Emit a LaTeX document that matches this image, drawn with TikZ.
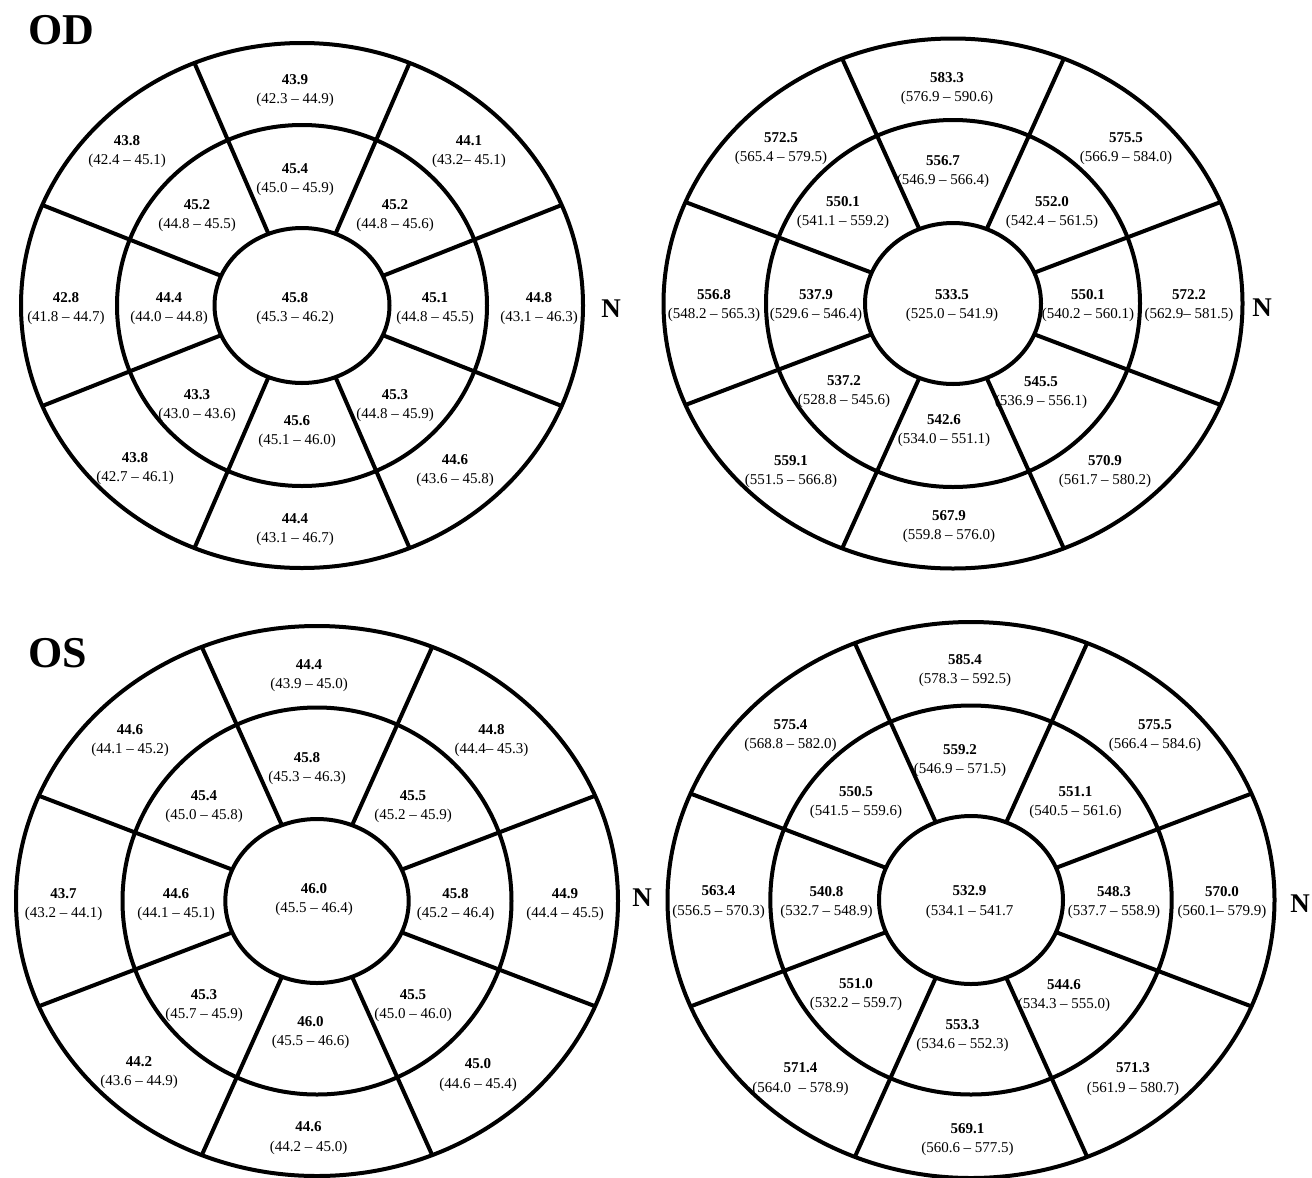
\documentclass[tikz,border=0pt]{standalone}
\usepackage{fontspec}
\setmainfont{Liberation Serif}
\tikzset{
  ring/.style={line width=4pt},
  spoke/.style={line width=4pt},
  lbl/.style={align=center, font=\fontsize{15}{19.5}\selectfont, inner sep=0pt},
  eyetag/.style={font=\fontsize{44}{44}\selectfont\bfseries, inner sep=0pt},
  nasal/.style={font=\fontsize{27}{27}\selectfont\bfseries, inner sep=0pt},
}
% cx cy orx ory mrx mry irx iry
\newcommand\eyechart[8]{%
  \draw[ring] (#1,#2) ellipse [x radius=#3pt, y radius=#4pt];
  \draw[ring] (#1,#2) ellipse [x radius=#5pt, y radius=#6pt];
  \draw[ring] (#1,#2) ellipse [x radius=#7pt, y radius=#8pt];
  \foreach \a in {22.5,67.5,...,337.5}{
    \draw[spoke] ({#1+#7*cos(\a)},{#2+#8*sin(\a)}) -- ({#1+#3*cos(\a)},{#2+#4*sin(\a)});
  }%
}
\newcommand\seg[5]{\node[lbl] (#1) at (#2,{#3+9.75}) {\textbf{#4}\\#5};}
\begin{document}
\begin{tikzpicture}[x=1pt,y=-1pt]
\useasboundingbox (0,0) rectangle (1312,1178);
% ---------- OD left ----------
\eyechart{302}{305.5}{281}{262.5}{185}{180.5}{87.5}{77.5}
\node[eyetag] (od) at (61,30.5) {OD};
\node[nasal] (n1) at (611,309) {N};
\seg{t1}{295}{81}{43.9}{(42.3 – 44.9)}
\seg{t2}{127}{142}{43.8}{(42.4 – 45.1)}
\seg{t3}{469}{142}{44.1}{(43.2– 45.1)}
\seg{t4}{295}{170}{45.4}{(45.0 – 45.9)}
\seg{t5}{197}{206}{45.2}{(44.8 – 45.5)}
\seg{t6}{395}{206}{45.2}{(44.8 – 45.6)}
\seg{t7}{66}{299}{42.8}{(41.8 – 44.7)}
\seg{t8}{169}{299}{44.4}{(44.0 – 44.8)}
\seg{t9}{295}{299}{45.8}{(45.3 – 46.2)}
\seg{t10}{435}{299}{45.1}{(44.8 – 45.5)}
\seg{t11}{539}{299}{44.8}{(43.1 – 46.3)}
\seg{t12}{197}{396}{43.3}{(43.0 – 43.6)}
\seg{t13}{395}{396}{45.3}{(44.8 – 45.9)}
\seg{t14}{297}{422}{45.6}{(45.1 – 46.0)}
\seg{t15}{135}{459}{43.8}{(42.7 – 46.1)}
\seg{t16}{455}{461}{44.6}{(43.6 – 45.8)}
\seg{t17}{295}{520}{44.4}{(43.1 – 46.7)}
% ---------- OD right ----------
\eyechart{953}{303.5}{289.5}{265}{187}{183.5}{88}{80.5}
\node[nasal] (n2) at (1262,308) {N};
\seg{r1}{947}{79}{583.3}{(576.9 – 590.6)}
\seg{r2}{781}{139}{572.5}{(565.4 – 579.5)}
\seg{r3}{1126}{139}{575.5}{(566.9 – 584.0)}
\seg{r4}{943}{162}{556.7}{(546.9 – 566.4)}
\seg{r5}{843}{203}{550.1}{(541.1 – 559.2)}
\seg{r6}{1052}{203}{552.0}{(542.4 – 561.5)}
\seg{r7}{714}{296}{556.8}{(548.2 – 565.3)}
\seg{r8}{816}{296}{537.9}{(529.6 – 546.4)}
\seg{r9}{952}{296}{533.5}{(525.0 – 541.9)}
\seg{r10}{1088}{296}{550.1}{(540.2 – 560.1)}
\seg{r11}{1189}{296}{572.2}{(562.9– 581.5)}
\seg{r12}{844}{382}{537.2}{(528.8 – 545.6)}
\seg{r13}{1041}{383}{545.5}{(536.9 – 556.1)}
\seg{r14}{944}{421}{542.6}{(534.0 – 551.1)}
\seg{r15}{791}{462}{559.1}{(551.5 – 566.8)}
\seg{r16}{1105}{462}{570.9}{(561.7 – 580.2)}
\seg{r17}{949}{517}{567.9}{(559.8 – 576.0)}
% ---------- OS left ----------
\eyechart{317}{901}{301}{275}{194.5}{193.5}{91.7}{82}
\node[eyetag] (os) at (58,653.5) {OS};
\node[nasal] (n3) at (642,898) {N};
\seg{b1}{309}{666}{44.4}{(43.9 – 45.0)}
\seg{b2}{130}{731}{44.6}{(44.1 – 45.2)}
\seg{b3}{491.5}{731}{44.8}{(44.4– 45.3)}
\seg{b4}{307}{759}{45.8}{(45.3 – 46.3)}
\seg{b5}{204}{797}{45.4}{(45.0 – 45.8)}
\seg{b6}{413}{797}{45.5}{(45.2 – 45.9)}
\seg{b7}{63.5}{895}{43.7}{(43.2 – 44.1)}
\seg{b8}{176}{895}{44.6}{(44.1 – 45.1)}
\seg{b9}{314}{890}{46.0}{(45.5 – 46.4)}
\seg{b10}{455.5}{895}{45.8}{(45.2 – 46.4)}
\seg{b11}{565}{895}{44.9}{(44.4 – 45.5)}
\seg{b12}{204}{996}{45.3}{(45.7 – 45.9)}
\seg{b13}{413}{996}{45.5}{(45.0 – 46.0)}
\seg{b14}{310.5}{1023}{46.0}{(45.5 – 46.6)}
\seg{b15}{139}{1063}{44.2}{(43.6 – 44.9)}
\seg{b16}{478}{1065.5}{45.0}{(44.6 – 45.4)}
\seg{b17}{308.5}{1128.5}{44.6}{(44.2 – 45.0)}
% ---------- OS right ----------
\eyechart{971}{900}{303.5}{278}{200.7}{194.5}{92}{84}
\node[nasal] (n4) at (1300,903.7) {N};
\seg{s1}{965}{661}{585.4}{(578.3 – 592.5)}
\seg{s2}{790.5}{726}{575.4}{(568.8 – 582.0)}
\seg{s3}{1155}{726}{575.5}{(566.4 – 584.6)}
\seg{s4}{960}{751}{559.2}{(546.9 – 571.5)}
\seg{s5}{856}{793}{550.5}{(541.5 – 559.6)}
\seg{s6}{1075.5}{793}{551.1}{(540.5 – 561.6)}
\seg{s7}{718.6}{892.6}{563.4}{(556.5 – 570.3)}
\seg{s8}{826.5}{892.6}{540.8}{(532.7 – 548.9)}
\seg{s9}{969.6}{892.6}{532.9}{(534.1 – 541.7}
\seg{s10}{1114}{892.6}{548.3}{(537.7 – 558.9)}
\seg{s11}{1222}{892.6}{570.0}{(560.1– 579.9)}
\seg{s12}{856}{985}{551.0}{(532.2 – 559.7)}
\seg{s13}{1064}{986}{544.6}{(534.3 – 555.0)}
\seg{s14}{962.5}{1026}{553.3}{(534.6 – 552.3)}
\seg{s15}{800.6}{1069.6}{571.4}{(564.0\ \ – 578.9)}
\seg{s16}{1133}{1069.6}{571.3}{(561.9 – 580.7)}
\seg{s17}{967.5}{1130}{569.1}{(560.6 – 577.5)}
\end{tikzpicture}
\end{document}
